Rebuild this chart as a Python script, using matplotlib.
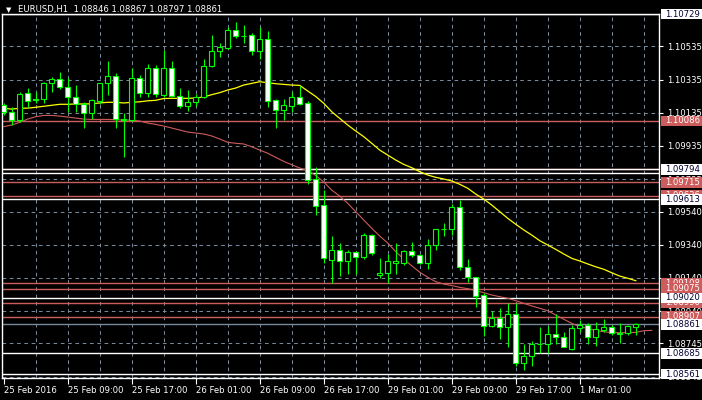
import numpy as np
import matplotlib
matplotlib.use("Agg")
import matplotlib.pyplot as plt
from matplotlib.patches import Rectangle
from matplotlib import transforms

# EURUSD H1 candles, 25 Feb 2016 -> 1 Mar 2016
opens = [1.10182, 1.10139, 1.10091, 1.10254, 1.10209, 1.10218, 1.10314, 1.10338, 1.10290, 1.10230,
         1.10188, 1.10133, 1.10206, 1.10314, 1.10356, 1.10091, 1.10091, 1.10344, 1.10254, 1.10404,
         1.10245, 1.10404, 1.10238, 1.10174, 1.10198, 1.10228, 1.10418, 1.10505, 1.10523, 1.10633,
         1.10599, 1.10603, 1.10509, 1.10579, 1.10212, 1.10153, 1.10177, 1.10228, 1.10192, 1.09734,
         1.09579, 1.09248, 1.09308, 1.09244, 1.09294, 1.09264, 1.09398, 1.09157, 1.09168, 1.09232,
         1.09228, 1.09302, 1.09276, 1.09232, 1.09338, 1.09435, 1.09433, 1.09565, 1.09204, 1.09144,
         1.09035, 1.08852, 1.08897, 1.08842, 1.08923, 1.08629, 1.08671, 1.08740, 1.08742, 1.08802,
         1.08782, 1.08710, 1.08836, 1.08856, 1.08782, 1.08826, 1.08842, 1.08802, 1.08806, 1.08846]
highs = [1.10194, 1.10169, 1.10260, 1.10284, 1.10260, 1.10322, 1.10350, 1.10380, 1.10344, 1.10302,
         1.10200, 1.10218, 1.10317, 1.10447, 1.10374, 1.10133, 1.10404, 1.10362, 1.10429, 1.10422,
         1.10513, 1.10448, 1.10284, 1.10272, 1.10248, 1.10459, 1.10603, 1.10553, 1.10650, 1.10680,
         1.10663, 1.10615, 1.10653, 1.10629, 1.10218, 1.10218, 1.10258, 1.10298, 1.10207, 1.09806,
         1.09669, 1.09392, 1.09348, 1.09308, 1.09302, 1.09409, 1.09403, 1.09258, 1.09284, 1.09348,
         1.09308, 1.09356, 1.09284, 1.09374, 1.09435, 1.09473, 1.09585, 1.09609, 1.09254, 1.09147,
         1.09047, 1.08942, 1.08957, 1.08987, 1.08987, 1.08742, 1.08762, 1.08846, 1.08850, 1.08923,
         1.08816, 1.08856, 1.08886, 1.08870, 1.08876, 1.08892, 1.08856, 1.08867, 1.08856, 1.08867]
lows = [1.10121, 1.10061, 1.10079, 1.10169, 1.10194, 1.10194, 1.10260, 1.10278, 1.10139, 1.10139,
        1.10043, 1.10097, 1.10188, 1.10242, 1.10043, 1.09868, 1.10085, 1.10230, 1.10230, 1.10230,
        1.10230, 1.10230, 1.10163, 1.10147, 1.10177, 1.10224, 1.10409, 1.10469, 1.10519, 1.10585,
        1.10553, 1.10485, 1.10459, 1.10168, 1.10043, 1.10091, 1.10138, 1.10183, 1.09706, 1.09519,
        1.09232, 1.09109, 1.09151, 1.09163, 1.09163, 1.09254, 1.09278, 1.09138, 1.09107, 1.09163,
        1.09218, 1.09264, 1.09224, 1.09192, 1.09308, 1.09392, 1.09398, 1.09188, 1.09113, 1.08963,
        1.08792, 1.08842, 1.08772, 1.08726, 1.08611, 1.08585, 1.08611, 1.08686, 1.08686, 1.08742,
        1.08722, 1.08706, 1.08812, 1.08742, 1.08732, 1.08812, 1.08796, 1.08746, 1.08796, 1.08797]
closes = [1.10139, 1.10091, 1.10248, 1.10206, 1.10215, 1.10314, 1.10338, 1.10290, 1.10230, 1.10188,
          1.10133, 1.10212, 1.10314, 1.10356, 1.10097, 1.10100, 1.10344, 1.10254, 1.10404, 1.10248,
          1.10404, 1.10238, 1.10174, 1.10198, 1.10228, 1.10418, 1.10505, 1.10529, 1.10633, 1.10599,
          1.10600, 1.10510, 1.10577, 1.10207, 1.10153, 1.10182, 1.10228, 1.10188, 1.09732, 1.09575,
          1.09258, 1.09308, 1.09244, 1.09298, 1.09264, 1.09398, 1.09288, 1.09168, 1.09242, 1.09242,
          1.09302, 1.09276, 1.09232, 1.09338, 1.09435, 1.09436, 1.09565, 1.09204, 1.09144, 1.09033,
          1.08852, 1.08897, 1.08842, 1.08923, 1.08626, 1.08671, 1.08742, 1.08744, 1.08802, 1.08782,
          1.08722, 1.08840, 1.08858, 1.08782, 1.08830, 1.08842, 1.08806, 1.08808, 1.08850, 1.08861]

# moving averages (yellow = fast, red = slow, shifted 2 bars forward)
ma_yellow = [1.10162, 1.10157, 1.10162, 1.10163, 1.10168, 1.10174, 1.10180, 1.10186, 1.10186, 1.10188,
             1.10188, 1.10189, 1.10194, 1.10198, 1.10198, 1.10194, 1.10198, 1.10201, 1.10207, 1.10210,
             1.10221, 1.10222, 1.10222, 1.10222, 1.10224, 1.10230, 1.10244, 1.10256, 1.10272, 1.10284,
             1.10302, 1.10312, 1.10322, 1.10316, 1.10310, 1.10306, 1.10302, 1.10300, 1.10266, 1.10233,
             1.10192, 1.10141, 1.10101, 1.10061, 1.10025, 1.09991, 1.09951, 1.09910, 1.09880, 1.09850,
             1.09824, 1.09804, 1.09780, 1.09760, 1.09746, 1.09736, 1.09724, 1.09704, 1.09680, 1.09645,
             1.09615, 1.09579, 1.09539, 1.09499, 1.09463, 1.09429, 1.09398, 1.09364, 1.09338, 1.09312,
             1.09284, 1.09258, 1.09242, 1.09224, 1.09207, 1.09192, 1.09171, 1.09151, 1.09138, 1.09123]
ma_red = [1.10051, 1.10061, 1.10077, 1.10097, 1.10111, 1.10119, 1.10119, 1.10115, 1.10109, 1.10103,
          1.10097, 1.10095, 1.10095, 1.10095, 1.10093, 1.10091, 1.10091, 1.10085, 1.10073, 1.10065,
          1.10055, 1.10043, 1.10031, 1.10019, 1.10013, 1.10007, 1.09995, 1.09977, 1.09957, 1.09951,
          1.09947, 1.09930, 1.09910, 1.09891, 1.09866, 1.09842, 1.09822, 1.09802, 1.09787, 1.09757,
          1.09718, 1.09669, 1.09633, 1.09589, 1.09539, 1.09489, 1.09439, 1.09392, 1.09350, 1.09298,
          1.09254, 1.09213, 1.09174, 1.09144, 1.09117, 1.09103, 1.09094, 1.09083, 1.09075, 1.09064,
          1.09051, 1.09037, 1.09027, 1.09017, 1.09003, 1.08987, 1.08971, 1.08957, 1.08942, 1.08916,
          1.08891, 1.08866, 1.08846, 1.08836, 1.08822, 1.08816, 1.08810, 1.08810, 1.08810, 1.08812,
          1.08822, 1.08824]

# horizontal levels on the chart: price, colour, shows a price tag
levels = [(1.10729, "white", True), (1.10086, "red", True), (1.09796, "red", True),
          (1.09794, "white", True), (1.09774, "white", False), (1.09715, "red", True),
          (1.09636, "red", True), (1.09613, "white", True), (1.09108, "red", True),
          (1.09075, "red", True), (1.09020, "white", True), (1.08990, "red", True),
          (1.08907, "red", True), (1.08685, "white", True), (1.08561, "white", True)]
bid_level = 1.08861

price_ticks = [1.10535, 1.10335, 1.10135, 1.09935, 1.09735, 1.09540, 1.09340, 1.09140,
               1.08940, 1.08745, 1.08545]
time_labels = ["25 Feb 2016", "25 Feb 09:00", "25 Feb 17:00", "26 Feb 01:00", "26 Feb 09:00",
               "26 Feb 17:00", "29 Feb 01:00", "29 Feb 09:00", "29 Feb 17:00", "1 Mar 01:00"]
time_label_bars = [0, 8, 16, 24, 32, 40, 48, 56, 64, 72]

GREEN = "#00FF00"
RED = "#CD5C5C"
GRID = "#778899"
FS = 6.1

fig = plt.figure(figsize=(7.02, 4.0), dpi=100, facecolor="black")
ax = fig.add_axes([2 / 702, 22 / 400, 657 / 702, 364 / 400], facecolor="black")
ax.set_xlim(-0.21, 81.9)
ax.set_ylim(1.08537, 1.10730)

# grid
for v in price_ticks:
    ax.axhline(v, color=GRID, lw=0.75, ls=(0, (3.5, 3.5)), zorder=1)
for b in range(4, 81, 4):
    ax.axvline(b, color=GRID, lw=0.75, ls=(0, (3.5, 3.5)), zorder=1)

# levels
for v, col, _ in levels:
    ax.axhline(v, color=RED if col == "red" else "white", lw=1.0, zorder=2)
ax.axhline(bid_level, color=GRID, lw=1.0, zorder=2)

# moving averages
ax.plot(np.arange(len(ma_yellow)), ma_yellow, color="yellow", lw=0.9, zorder=3)
ax.plot(np.arange(len(ma_red)), ma_red, color=RED, lw=0.8, zorder=3)

# candles
x = np.arange(len(opens))
o = np.array(opens)
c = np.array(closes)
bottoms = np.minimum(o, c)
heights = np.maximum(np.abs(c - o), 0.000005)
faces = ["white" if cc < oo else "black" for oo, cc in zip(o, c)]
ax.vlines(x, lows, highs, color=GREEN, lw=0.8, zorder=4)
ax.bar(x, heights, bottom=bottoms, width=0.62, color=faces, edgecolor=GREEN,
       linewidth=0.8, zorder=5)

# axes styling
for s in ax.spines.values():
    s.set_color("white")
    s.set_linewidth(1.0)
ax.yaxis.tick_right()
ax.set_yticks(price_ticks, labels=[f"{v:.5f}" for v in price_ticks])
ax.set_xticks(time_label_bars, labels=time_labels)
ax.tick_params(axis="y", colors="white", length=3, width=0.8, pad=3, labelsize=FS)
ax.tick_params(axis="x", colors="white", length=4, width=0.8, pad=2, labelsize=FS)
for lab in ax.get_xticklabels():
    lab.set_horizontalalignment("left")

# price tags on the right: red ones first (lower over higher), white ones on top
tr = transforms.blended_transform_factory(ax.transAxes, ax.transData)
box_h = 0.00064
reds = sorted([t for t in levels if t[1] == "red" and t[2]], key=lambda t: -t[0])
whites = sorted([t for t in levels if t[1] == "white" and t[2]], key=lambda t: -t[0])
tags = [(v, col) for v, col, _ in reds + whites] + [(bid_level, "bid")]
for i, (v, col) in enumerate(tags):
    bg = RED if col == "red" else "white"
    fg = "white" if col == "red" else "#000033"
    z = 6 + i * 0.01
    ax.add_patch(Rectangle((1.003, v - box_h / 2), 0.0624, box_h, transform=tr,
                           facecolor=bg, edgecolor="none", clip_on=False, zorder=z))
    ax.text(1.0095, v, f"{v:.5f}", transform=tr, color=fg, fontsize=FS,
            va="center", ha="left", clip_on=False, zorder=z + 0.005)

# header
fig.text(6 / 702, 1 - 10 / 400, "\u25bc", color="white", fontsize=5, va="center")
fig.text(18 / 702, 1 - 9.5 / 400, "EURUSD,H1  1.08846 1.08867 1.08797 1.08861",
         color="white", fontsize=FS, va="center")

fig.savefig("out.png", dpi=100, facecolor="black")
